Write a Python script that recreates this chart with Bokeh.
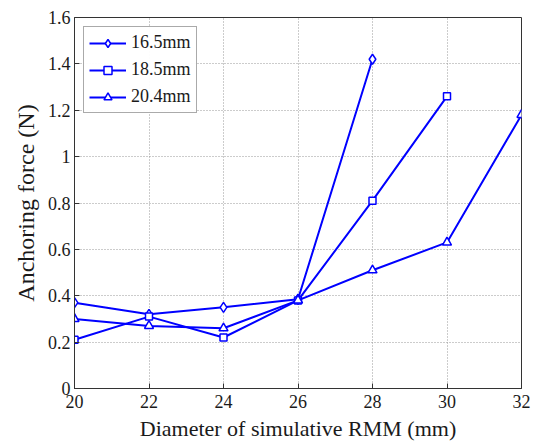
from bokeh.plotting import figure
from bokeh.models import FixedTicker, CustomJSTickFormatter, Legend, LegendItem, Range1d
from bokeh.embed import file_html
from bokeh.resources import INLINE

x_165 = [20, 22, 24, 26, 28]
y_165 = [0.37, 0.32, 0.35, 0.385, 1.42]
x_185 = [20, 22, 24, 26, 28, 30]
y_185 = [0.21, 0.31, 0.22, 0.38, 0.81, 1.26]
x_204 = [20, 22, 24, 26, 28, 30, 32]
y_204 = [0.30, 0.27, 0.26, 0.38, 0.51, 0.63, 1.18]
labels = ["16.5mm", "18.5mm", "20.4mm"]
x_ticks = [20, 22, 24, 26, 28, 30, 32]
y_ticks = [0, 0.2, 0.4, 0.6, 0.8, 1.0, 1.2, 1.4, 1.6]

FONT = "Liberation Serif"
BLUE = "#0000FF"
TXT = "#1a1a1a"

p = figure(width=543, height=445, output_backend="svg", toolbar_location=None,
           x_range=Range1d(20, 32), y_range=Range1d(0, 1.6),
           min_border_left=74, min_border_right=22, min_border_top=17, min_border_bottom=57)
p.outline_line_color = "#333333"
p.outline_line_width = 1

for ax in (p.xaxis[0], p.yaxis[0]):
    ax.major_tick_in = 5
    ax.major_tick_out = 0
    ax.minor_tick_in = 0
    ax.minor_tick_out = 0
    ax.major_label_text_font = FONT
    ax.major_label_text_font_size = "18px"
    ax.major_label_text_color = TXT
    ax.axis_label_text_font = FONT
    ax.axis_label_text_font_style = "normal"
    ax.axis_label_text_color = TXT
    ax.axis_line_color = "#333333"
    ax.major_tick_line_color = "#333333"

p.xaxis[0].ticker = FixedTicker(ticks=x_ticks)
p.yaxis[0].ticker = FixedTicker(ticks=y_ticks)
p.yaxis[0].formatter = CustomJSTickFormatter(code="return String(Math.round(tick*10)/10)")
p.xaxis[0].axis_label = "Diameter of simulative RMM (mm)"
p.yaxis[0].axis_label = "Anchoring force (N)"
p.xaxis[0].axis_label_text_font_size = "22px"
p.yaxis[0].axis_label_text_font_size = "24px"
p.xaxis[0].major_label_standoff = 6
p.yaxis[0].major_label_standoff = 4
p.yaxis[0].axis_label_standoff = 6
p.xaxis[0].axis_label_standoff = 5

p.xgrid.ticker = FixedTicker(ticks=x_ticks)
p.ygrid.ticker = FixedTicker(ticks=y_ticks)
for g in (p.xgrid, p.ygrid):
    g.grid_line_color = "#999999"
    g.grid_line_dash = "1 2"
    g.grid_line_width = 1

l1 = p.line(x_165, y_165, line_color=BLUE, line_width=2)
m1 = p.scatter(x_165, y_165, marker="diamond", size=10, line_color=BLUE, fill_color="white", line_width=1.5)
l2 = p.line(x_185, y_185, line_color=BLUE, line_width=2)
m2 = p.scatter(x_185, y_185, marker="square", size=7, line_color=BLUE, fill_color="white", line_width=1.5)
l3 = p.line(x_204, y_204, line_color=BLUE, line_width=2)
m3 = p.scatter(x_204, y_204, marker="triangle", size=9, line_color=BLUE, fill_color="white", line_width=1.5)

legend = Legend(items=[LegendItem(label=labels[0], renderers=[l1, m1]),
                       LegendItem(label=labels[1], renderers=[l2, m2]),
                       LegendItem(label=labels[2], renderers=[l3, m3])],
                location="top_left")
legend.label_text_font = FONT
legend.label_text_font_size = "18px"
legend.label_text_color = TXT
legend.border_line_color = "#555555"
legend.border_line_width = 1
legend.glyph_width = 37
legend.glyph_height = 20
legend.label_height = 20
legend.spacing = 6
legend.padding = 5
legend.margin = 9
legend.label_standoff = 5
p.add_layout(legend)

open("out.html", "w").write(file_html(p, INLINE))
